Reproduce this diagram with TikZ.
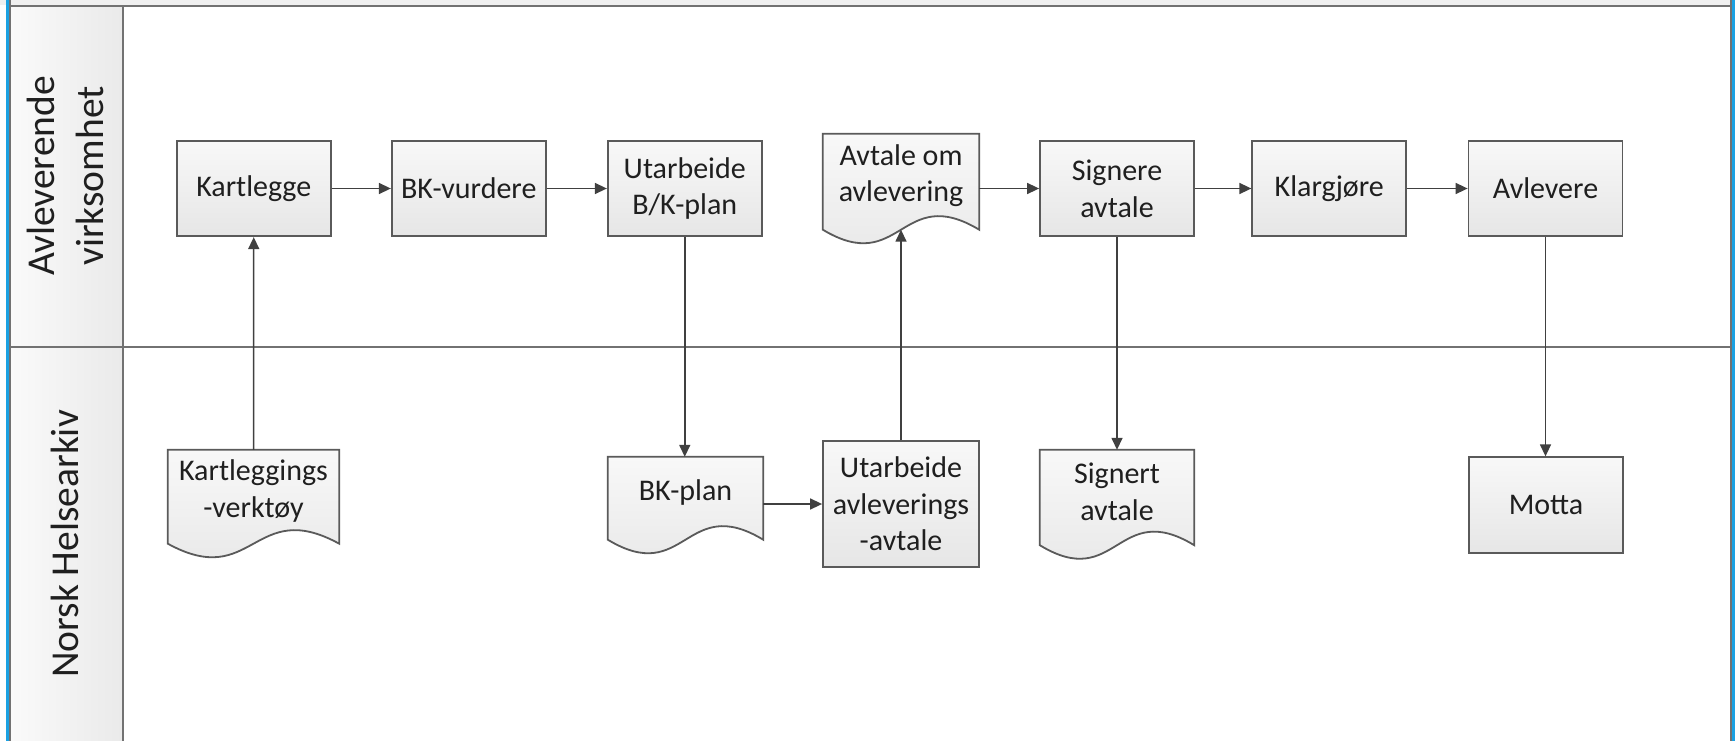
\documentclass[tikz,border=0pt]{standalone}
\usepackage{fontspec}
\setmainfont{Carlito}
\usetikzlibrary{arrows.meta,calc}
\definecolor{lanegray}{HTML}{727272}
\definecolor{laneblue}{HTML}{1BA1E2}
\definecolor{boxline}{HTML}{5A5A5A}
\definecolor{arrowgray}{HTML}{404040}
\definecolor{textdark}{HTML}{1F1F1F}
\definecolor{stripgray}{HTML}{F0F0F0}
\definecolor{boxtop}{HTML}{F8F8F8}
\definecolor{boxbottom}{HTML}{E6E6E6}
\definecolor{headleft}{HTML}{FAFAFA}
\definecolor{headright}{HTML}{EAEAEA}
\pgfdeclarelayer{lanelayer}
\pgfdeclarelayer{doclayer}
\pgfsetlayers{lanelayer,doclayer,main}
\newcommand{\drawdocshape}[1]{%
  \path[docline] ($(#1.south west)+(0,12)$) -- (#1.north west) -- (#1.north east)
    -- ($(#1.south east)+(0,12)$)
    .. controls ($(#1.south)+(0,-35)$) and ($(#1.south)+(0,59)$) .. ($(#1.south west)+(0,12)$) -- cycle;}
\begin{document}
\begin{tikzpicture}[x=1pt,y=-1pt,
  every node/.style={text=textdark},
  boxtext/.style={font=\fontsize{30}{36.6}\selectfont, align=center},
  procbox/.style={boxtext, rectangle, draw=boxline, line width=1.8pt,
    minimum width=154pt, minimum height=95.5pt, inner sep=0pt,
    top color=boxtop, bottom color=boxbottom},
  doctext/.style={boxtext, rectangle, inner sep=0pt, draw=none},
  docline/.style={draw=boxline, line width=1.8pt, top color=boxtop, bottom color=boxbottom},
  flow/.style={draw=arrowgray, line width=1.5pt, -{Triangle[length=12pt,width=11pt]}},
  laneline/.style={draw=lanegray, line width=2pt},
  blueline/.style={draw=laneblue, line width=2.6pt},
  lanetext/.style={rotate=90, align=center, font=\fontsize{39.5}{49}\selectfont}
]
\useasboundingbox (0,0) rectangle (1735,741);

% lanes
\begin{pgfonlayer}{lanelayer}
  \fill[white] (0,0) rectangle (1735,741);
  \fill[stripgray] (0,0) rectangle (1735,5);
  \shade[left color=headleft, right color=headright] (10,6) rectangle (122,741);
  \draw[laneline] (8,6) -- (1732,6);
  \draw[laneline] (123,6) -- (123,741);
  \draw[laneline] (8,347) -- (1732,347);
  \draw[laneline] (9.8,0) -- (9.8,741);
  \draw[laneline] (1730.8,0) -- (1730.8,741);
  \draw[blueline] (7.5,0) -- (7.5,741);
  \draw[blueline] (1733.2,0) -- (1733.2,741);
\end{pgfonlayer}

\node[lanetext] (lane1) at (65,176) {Avleverende\\virksomhet};
\node[lanetext] (lane2) at (65,544) {Norsk Helsearkiv};

% upper row
\node[procbox] (kartlegge) at (253.75,188.5) {Kartlegge};
\node[procbox] (bkvurd) at (468.75,188.5) {BK-vurdere};
\node[procbox] (utbk) at (684.75,188.5) {Utarbeide\\B/K-plan};
\node[doctext, minimum width=156pt, minimum height=83.5pt] (avtale) at (901,175.75) {Avtale om\\avlevering};
\node[procbox] (signere) at (1117,188.5) {Signere\\avtale};
\node[procbox] (klar) at (1329.25,188.5) {Klargjøre};
\node[procbox] (avlevere) at (1545.5,188.5) {Avlevere};

% lower row
\node[doctext, minimum width=171pt, minimum height=81.5pt] (kverk) at (253.5,490.75) {Kartleggings\\-verktøy};
\node[doctext, minimum width=155pt, minimum height=70.5pt] (bkplan) at (685.5,492.25) {BK-plan};
\node[procbox, minimum width=156pt, minimum height=126pt] (uavl) at (901,504) {Utarbeide\\avleverings\\-avtale};
\node[doctext, minimum width=154pt, minimum height=83pt] (signert) at (1117,491.5) {Signert\\avtale};
\node[procbox] (motta) at (1546,505) {Motta};

\begin{pgfonlayer}{doclayer}
  \drawdocshape{avtale}
  \drawdocshape{kverk}
  \drawdocshape{bkplan}
  \drawdocshape{signert}
\end{pgfonlayer}

\coordinate (avtalewave) at ($(avtale.south)+(0,12)$);

% connectors
\draw[flow] (kartlegge) -- (bkvurd);
\draw[flow] (bkvurd) -- (utbk);
\draw[flow] (avtale.east |- signere.west) -- (signere.west);
\draw[flow] (signere) -- (klar);
\draw[flow] (klar) -- (avlevere);
\draw[flow] (kverk.north) -- (kartlegge.south);
\draw[flow] (utbk.south) -- (utbk.south |- bkplan.north);
\draw[flow] (bkplan.east |- uavl.west) -- (uavl.west);
\draw[flow] (uavl.north) -- (avtalewave);
\draw[flow] (signere.south) -- (signert.north);
\draw[flow] (avlevere.south) -- (avlevere.south |- motta.north);
\end{tikzpicture}
\end{document}
